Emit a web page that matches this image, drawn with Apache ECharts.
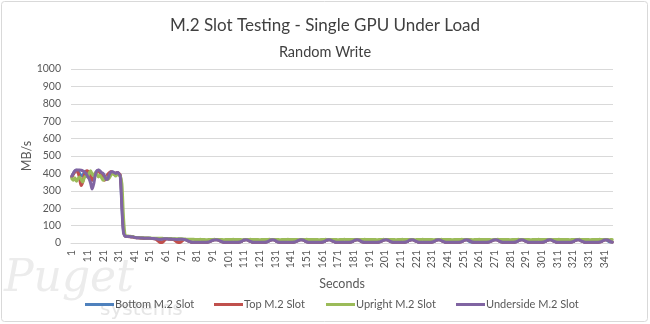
<!DOCTYPE html>
<html>
<head>
<meta charset="utf-8">
<script src="https://cdn.jsdelivr.net/npm/echarts@6/dist/echarts.min.js"></script>
<style>html,body{margin:0;padding:0;background:#fff}#c{width:650px;height:324px}</style>
</head>
<body>
<div id="c"></div>
<script>
// Seconds 1..346 (category labels)
var categories = [];
for (var i = 1; i <= 346; i++) categories.push(String(i));

var seriesNames = ['Bottom M.2 Slot', 'Top M.2 Slot', 'Upright M.2 Slot', 'Underside M.2 Slot'];
var yTicks = [0, 100, 200, 300, 400, 500, 600, 700, 800, 900, 1000];

var bottomSlot = [
380,400,412,418,415,400,385,390,405,412,
410,400,385,360,370,395,412,418,410,398,
385,372,370,385,400,408,408,402,400,404,
398,385,220,70,40,38,38,37,36,35,
32,31,30,30,29,29,28,28,28,27,
27,26,26,25,24,22,20,21,23,24,
24,24,23,23,22,22,21,20,21,22,
22,21,20,18,14,9,6,5,5,5,
5,5,5,5,5,5,5,6,8,12,
16,18,19,18,15,11,7,5,5,5,
5,5,5,5,5,5,5,6,8,13,
17,19,18,14,9,6,5,5,5,5,
5,5,5,5,6,8,13,17,19,18,
14,8,6,5,5,5,5,5,5,5,
5,5,6,8,12,16,19,19,16,11,
7,5,5,5,5,5,5,5,5,5,
6,8,13,17,19,18,14,9,6,5,
5,5,5,5,5,5,5,5,6,8,
13,17,19,18,14,8,6,5,5,5,
5,5,5,5,5,5,6,8,12,16,
19,19,16,11,7,5,5,5,5,5,
5,5,5,6,8,13,17,19,18,14,
9,6,5,5,5,5,5,5,5,5,
6,8,13,17,19,18,14,9,6,5,
5,5,5,5,5,5,5,6,8,13,
17,19,18,14,8,6,5,5,5,5,
5,5,5,5,5,5,6,8,12,16,
19,19,16,11,7,5,5,5,5,5,
5,5,5,6,8,13,17,19,18,14,
9,6,5,5,5,5,5,5,5,5,
5,6,8,13,17,19,18,14,9,6,
5,5,5,5,5,5,5,5,5,6,
8,13,17,19,18,14,9,6,5,5,
5,5,5,5,5,5,6,8,13,17,
19,18,14,8,6,5
];

var topSlot = [
380,395,410,415,405,370,330,350,390,410,
415,405,380,360,375,395,410,415,405,390,
370,360,375,395,405,410,405,395,400,405,
400,390,250,80,40,38,37,36,35,34,
31,30,30,29,29,28,28,27,27,27,
26,26,25,24,20,12,5,3,5,14,
22,24,23,22,22,20,14,6,3,3,
8,16,20,18,14,9,6,5,5,5,
5,5,5,5,5,5,5,6,8,12,
16,18,19,18,15,11,7,5,5,5,
5,5,5,5,5,5,5,6,8,13,
17,19,18,14,9,6,5,5,5,5,
5,5,5,5,6,8,13,17,19,18,
14,8,6,5,5,5,5,5,5,5,
5,5,6,8,12,16,19,19,16,11,
7,5,5,5,5,5,5,5,5,5,
6,8,13,17,19,18,14,9,6,5,
5,5,5,5,5,5,5,5,6,8,
13,17,19,18,14,8,6,5,5,5,
5,5,5,5,5,5,6,8,12,16,
19,19,16,11,7,5,5,5,5,5,
5,5,5,6,8,13,17,19,18,14,
9,6,5,5,5,5,5,5,5,5,
6,8,13,17,19,18,14,9,6,5,
5,5,5,5,5,5,5,5,6,8,
13,17,19,18,14,8,6,5,5,5,
5,5,5,5,5,5,6,8,12,16,
19,19,16,11,7,5,5,5,5,5,
5,5,5,6,8,13,17,19,18,14,
9,6,5,5,5,5,5,5,5,5,
5,6,8,13,17,19,18,14,9,6,
5,5,5,5,5,5,5,5,5,6,
8,13,17,19,18,14,9,6,5,5,
5,5,5,5,5,5,5,6,8,13,
17,19,18,14,8,6
];

var uprightSlot = [
370,360,375,355,370,380,365,350,375,385,
380,400,415,395,385,405,395,380,390,375,
360,370,380,365,375,390,400,395,385,395,
390,385,340,150,45,40,40,39,38,37,
33,32,31,31,30,30,30,29,29,29,
29,28,28,28,28,27,27,27,27,26,
26,26,26,26,25,25,25,25,24,24,
24,23,23,22,22,21,21,21,21,20,
20,20,21,20,20,20,19,20,20,20,
20,21,20,20,20,20,20,19,20,20,
20,20,20,21,20,20,20,20,20,19,
20,20,20,20,21,20,20,20,20,20,
19,20,20,20,20,20,21,20,20,20,
20,20,20,19,20,20,20,20,21,20,
20,20,20,20,20,19,20,20,20,20,
21,20,20,20,20,20,20,20,19,20,
20,20,21,20,20,20,20,20,20,20,
19,20,20,20,21,20,20,20,20,20,
20,20,19,20,20,20,20,21,20,20,
20,20,20,20,20,19,20,20,20,21,
20,20,20,20,20,20,20,19,20,20,
20,21,20,20,20,20,20,20,20,19,
20,20,20,20,21,20,20,20,20,20,
20,19,20,20,20,20,21,20,20,20,
20,20,20,19,20,20,20,20,20,21,
20,20,20,20,20,20,19,20,20,20,
21,20,20,20,20,20,20,20,19,20,
20,20,21,20,20,20,20,20,20,20,
19,20,20,20,20,21,20,20,20,20,
20,20,20,19,20,20,20,20,21,20,
20,20,20,20,20,20,19,20,20,20,
20,21,20,20,20,20,20,20,19,20,
20,20,20,20,21,20,20,20,20,20,
20,19,20,20,20,20,20,21,20,20,
20,20,20,19,20,20
];

var undersideSlot = [
385,400,415,420,420,420,418,415,410,400,
385,370,345,310,340,390,415,420,415,405,
400,385,365,370,395,408,410,405,400,405,
400,380,200,60,40,38,38,37,36,35,
32,31,30,30,29,29,28,28,28,27,
27,26,26,25,24,22,20,21,23,24,
24,24,23,23,22,22,21,20,21,22,
22,21,20,18,14,9,6,5,5,5,
5,5,5,5,5,5,5,6,8,12,
16,18,19,18,15,11,7,5,5,5,
5,5,5,5,5,5,5,6,8,13,
17,19,18,14,9,6,5,5,5,5,
5,5,5,5,6,8,13,17,19,18,
14,8,6,5,5,5,5,5,5,5,
5,5,6,8,12,16,19,19,16,11,
7,5,5,5,5,5,5,5,5,5,
6,8,13,17,19,18,14,9,6,5,
5,5,5,5,5,5,5,5,6,8,
13,17,19,18,14,8,6,5,5,5,
5,5,5,5,5,5,6,8,12,16,
19,19,16,11,7,5,5,5,5,5,
5,5,5,6,8,13,17,19,18,14,
9,6,5,5,5,5,5,5,5,5,
6,8,13,17,19,18,14,9,6,5,
5,5,5,5,5,5,5,5,6,8,
13,17,19,18,14,8,6,5,5,5,
5,5,5,5,5,5,6,8,12,16,
19,19,16,11,7,5,5,5,5,5,
5,5,5,6,8,13,17,19,18,14,
9,6,5,5,5,5,5,5,5,5,
5,6,8,13,17,19,18,14,9,6,
5,5,5,5,5,5,5,5,5,6,
8,13,17,19,18,14,9,6,5,5,
5,5,5,5,5,5,5,6,8,13,
17,19,18,14,8,6
];

var colors = ['#4f81bd', '#c0504d', '#9bbb59', '#8064a2'];
var allData = [bottomSlot, topSlot, uprightSlot, undersideSlot];
var legendLefts = [80, 209, 321, 451];
var FONT = 'Lato';

var chart = echarts.init(document.getElementById('c'), null, {renderer: 'canvas'});

var option = {
  animation: false,
  backgroundColor: '#ffffff',
  color: colors,
  title: [
    {text: 'M.2 Slot Testing - Single GPU Under Load', left: 'center', top: 12,
     textStyle: {fontFamily: FONT, fontSize: 17, fontWeight: 'normal', color: '#404040'}},
    {text: 'Random Write', left: 'center', top: 40,
     textStyle: {fontFamily: FONT, fontSize: 14.5, fontWeight: 'normal', color: '#404040'}}
  ],
  legend: seriesNames.map(function (n, k) {
    return {
      data: [n], left: legendLefts[k], top: 294, icon: 'rect',
      itemWidth: 29, itemHeight: 3, selectedMode: false,
      textStyle: {fontFamily: FONT, fontSize: 11, color: '#595959', padding: [0, 0, 0, -4]}
    };
  }),
  grid: {left: 71, right: 37, top: 69, bottom: 81, containLabel: false},
  xAxis: {
    type: 'category', data: categories, boundaryGap: true,
    name: 'Seconds', nameLocation: 'middle', nameGap: 34, nameMoveOverlap: false,
    nameTextStyle: {fontFamily: FONT, fontSize: 12.5, color: '#595959'},
    axisLine: {lineStyle: {color: '#d9d9d9', width: 1}},
    axisTick: {show: false},
    axisLabel: {interval: 9, rotate: 90, fontFamily: FONT, fontSize: 10.5, color: '#595959', margin: 7}
  },
  yAxis: {
    type: 'value', min: 0, max: 1000, interval: 100,
    name: 'MB/s', nameLocation: 'middle', nameGap: 38, nameRotate: 90, nameMoveOverlap: false,
    nameTextStyle: {fontFamily: FONT, fontSize: 12.5, color: '#595959'},
    axisLine: {show: false}, axisTick: {show: false},
    splitLine: {lineStyle: {color: '#d9d9d9', width: 1}},
    axisLabel: {fontFamily: FONT, fontSize: 10.5, color: '#595959', margin: 10,
      formatter: function (v) { return yTicks.indexOf(v) >= 0 ? String(v) : ''; }}
  },
  series: seriesNames.map(function (n, k) {
    return {
      name: n, type: 'line', data: allData[k], symbol: 'none', showSymbol: false,
      smooth: 0.3, lineStyle: {width: 3, color: colors[k], cap: 'round', join: 'round'},
      itemStyle: {color: colors[k]}, z: 2 + k
    };
  }),
  graphic: [
    {type: 'rect', z: -10, silent: true,
     shape: {x: 1.5, y: 1.5, width: 646, height: 320, r: 3},
     style: {fill: 'none', stroke: '#d9d9d9', lineWidth: 1}},
    {type: 'text', z: -5, silent: true, left: 4, top: 258,
     style: {text: 'Puget', fill: '#ececec', font: 'italic 44px "DejaVu Serif"'}},
    {type: 'text', z: -5, silent: true, left: 100, top: 300,
     style: {text: 'systems', fill: '#e6e6e6', font: '20px "DejaVu Sans"'}}
  ]
};
chart.setOption(option);
</script>
</body>
</html>
